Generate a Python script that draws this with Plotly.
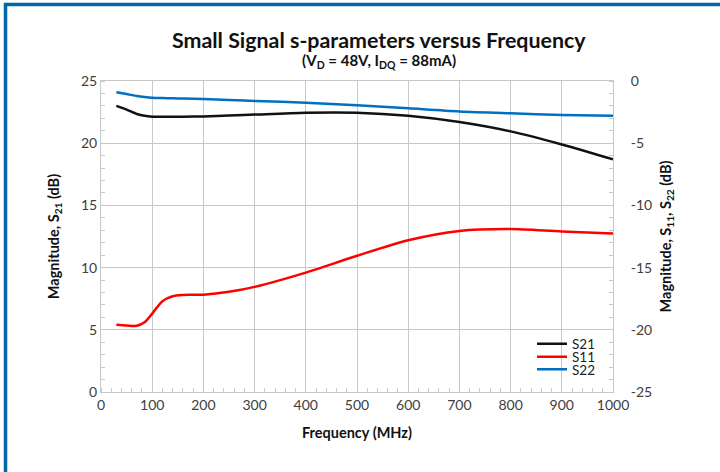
import plotly.graph_objects as go

freq = [30, 50, 70, 85, 100, 120, 140, 160, 200, 250, 300, 400, 500, 600, 700, 800, 900, 1000]
s21 = [23.0, 22.7, 22.35, 22.2, 22.13, 22.12, 22.12, 22.13, 22.15, 22.22, 22.3, 22.45, 22.45, 22.2, 21.7, 20.95, 19.9, 18.7]
s11 = [-19.6, -19.65, -19.68, -19.4, -18.7, -17.7, -17.3, -17.2, -17.18, -16.95, -16.55, -15.4, -14.05, -12.8, -12.05, -11.9, -12.1, -12.25]
s22 = [-0.9, -1.05, -1.2, -1.28, -1.34, -1.37, -1.39, -1.41, -1.45, -1.52, -1.6, -1.74, -1.95, -2.2, -2.45, -2.6, -2.73, -2.8]

x_ticks = list(range(0, 1001, 100))
left_ticks = [0, 5, 10, 15, 20, 25]
right_ticks = [-25, -20, -15, -10, -5, 0]
right_labels = ["-25", "-20", "-15", "-10", "-5", "0"]

FONT = "Lato"
TXT = "#404040"
GRID = "#c8c8c8"

L, R, T, B = 101, 107, 81, 80
W, H = 720, 472
pw, ph = W - L - R, H - T - B

def px(xp):
    return (xp - L) / pw

def py(yp):
    return (H - B - yp) / ph

fig = go.Figure()
fig.add_trace(go.Scatter(x=freq, y=s21, name="S21", mode="lines", legend="legend",
                         line=dict(color="#111111", width=2.5, shape="spline", smoothing=0.8)))
fig.add_trace(go.Scatter(x=freq, y=s11, name="S11", mode="lines", yaxis="y2", legend="legend2",
                         line=dict(color="#ff0000", width=2.5, shape="spline", smoothing=0.8)))
fig.add_trace(go.Scatter(x=freq, y=s22, name="S22", mode="lines", yaxis="y2", legend="legend3",
                         line=dict(color="#0070c0", width=2.5, shape="spline", smoothing=0.8)))

def leg(ycenter):
    return dict(x=px(532), y=py(ycenter), xanchor="left", yanchor="middle",
                bgcolor="rgba(0,0,0,0)", font=dict(size=13.5, color="#222222", family=FONT),
                itemwidth=30)

fig.update_layout(
    width=W, height=H,
    margin=dict(l=L, r=R, t=T, b=B, autoexpand=False),
    paper_bgcolor="white", plot_bgcolor="white",
    font=dict(family=FONT, color=TXT, size=14),
    showlegend=True,
    legend=leg(344), legend2=leg(357), legend3=leg(369.5),
    xaxis=dict(range=[0, 1000], tickvals=x_ticks, showgrid=True, gridcolor=GRID, gridwidth=1,
               showline=True, linecolor=GRID, linewidth=1, mirror=True, zeroline=False,
               ticks="", minor=dict(dtick=20, ticks="inside", ticklen=4, tickcolor=GRID, showgrid=False),
               title=dict(text="<b>Frequency (MHz)</b>", font=dict(size=14.5, color="#111111"), standoff=16),
               tickfont=dict(size=14, color=TXT)),
    yaxis=dict(range=[0, 25], tickvals=left_ticks, showgrid=True, gridcolor=GRID, gridwidth=1,
               showline=True, linecolor=GRID, linewidth=1, zeroline=False,
               ticks="", minor=dict(dtick=1, ticks="inside", ticklen=4, tickcolor=GRID, showgrid=False),
               title=dict(text="<b>Magnitude, S<sub>21</sub> (dB)</b>", font=dict(size=14.5, color="#111111"), standoff=17),
               tickfont=dict(size=14, color=TXT)),
    yaxis2=dict(range=[-25, 0], tickvals=right_ticks, ticktext=right_labels, overlaying="y", side="right", showgrid=False,
                showline=True, linecolor=GRID, linewidth=1, zeroline=False,
                ticks="", minor=dict(dtick=1, ticks="inside", ticklen=4, tickcolor=GRID, showgrid=False),
                ticklabelstandoff=14,
                title=dict(text="<b>Magnitude, S<sub>11</sub>, S<sub>22</sub> (dB)</b>", font=dict(size=14.5, color="#111111"), standoff=9),
                tickfont=dict(size=14, color=TXT)),
)

fig.add_annotation(text="<b>Small Signal s-parameters versus Frequency</b>", x=px(379), y=py(40),
                   xref="paper", yref="paper", showarrow=False, font=dict(size=21.4, color="#111111"),
                   xanchor="center", yanchor="middle")
fig.add_annotation(text="<b>(V<sub>D</sub> = 48V, I<sub>DQ</sub> = 88mA)</b>", x=px(379), y=py(61),
                   xref="paper", yref="paper", showarrow=False, font=dict(size=15, color="#111111"),
                   xanchor="center", yanchor="middle")

frame = "#0069aa"
fig.add_shape(type="line", xref="paper", yref="paper", x0=px(5.5), x1=px(5.5), y0=py(H + 5), y1=py(3),
              line=dict(color=frame, width=3.5))
fig.add_shape(type="line", xref="paper", yref="paper", x0=px(4), x1=px(W + 5), y0=py(4.5), y1=py(4.5),
              line=dict(color=frame, width=3.5))

fig.write_html("out.html", config={"displayModeBar": False},
               post_script="document.body.style.margin='0px';")
